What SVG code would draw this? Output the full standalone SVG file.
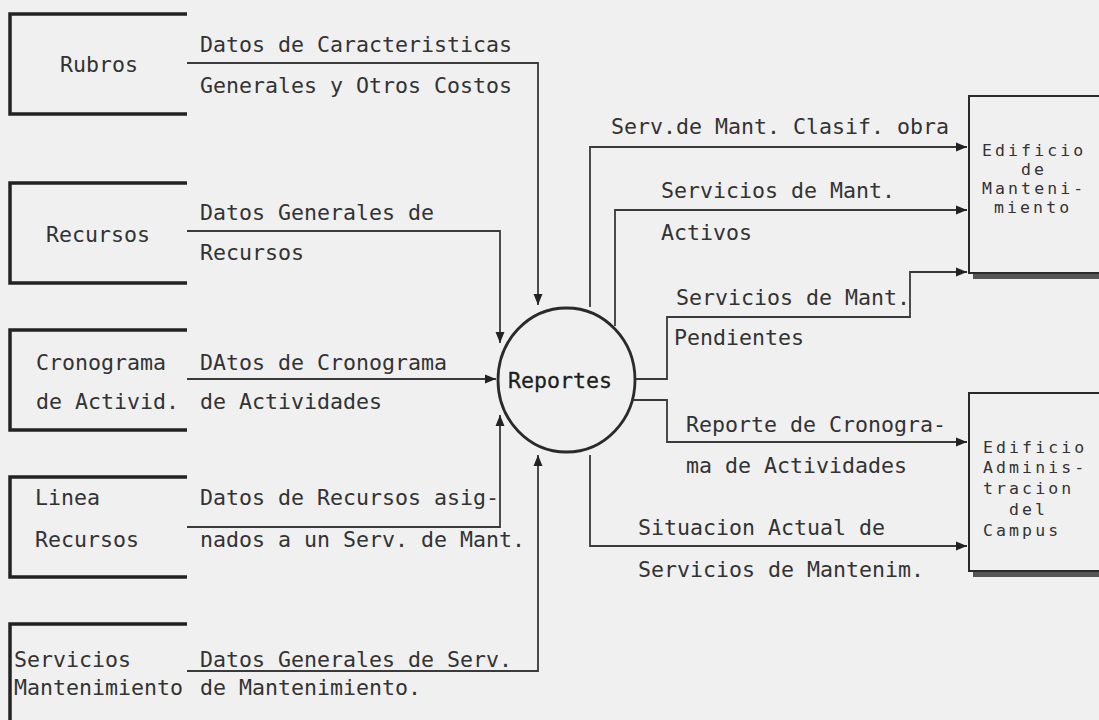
<svg xmlns="http://www.w3.org/2000/svg" width="1099" height="720" viewBox="0 0 1099 720">
<defs>
<style>
.t{font-family:"DejaVu Sans Mono","Liberation Mono",monospace;font-size:21.6px;fill:#333}
.s{font-family:"DejaVu Sans Mono","Liberation Mono",monospace;font-size:16.5px;letter-spacing:3.1px;fill:#333}
.b{fill:none;stroke:#222;stroke-width:3.5}
.c{fill:none;stroke:#3a3a3a;stroke-width:1.8}
.r{fill:none;stroke:#2a2a2a;stroke-width:2}
.sh{fill:#555}
</style>
<marker id="ah" markerUnits="userSpaceOnUse" markerWidth="12" markerHeight="10" refX="11" refY="5" orient="auto">
<path d="M0,0.5 L11,5 L0,9.5 z" fill="#222"/>
</marker>
</defs>
<rect width="1099" height="720" fill="#f0f0f0"/>

<g id="rubros">
<path class="b" d="M187,14 H10 V114 H187"/>
<text class="t" x="60" y="72">Rubros</text>
</g>
<g id="recursos">
<path class="b" d="M187,183 H10 V283 H187"/>
<text class="t" x="46" y="242">Recursos</text>
</g>
<g id="cronograma">
<path class="b" d="M187,330 H10 V430 H187"/>
<text class="t" x="36" y="370">Cronograma</text>
<text class="t" x="36" y="409">de Activid.</text>
</g>
<g id="linea">
<path class="b" d="M187,477 H10 V577 H187"/>
<text class="t" x="35" y="505">Linea</text>
<text class="t" x="35" y="547">Recursos</text>
</g>
<g id="servicios">
<path class="b" d="M187,624 H10 V722"/>
<text class="t" x="14" y="667">Servicios</text>
<text class="t" x="14" y="695">Mantenimiento</text>
</g>

<g id="reportes">
<ellipse cx="566.5" cy="380" rx="68.5" ry="72" fill="none" stroke="#2a2a2a" stroke-width="2.8"/>
<text class="t" x="508" y="388" style="fill:#1e1e1e;stroke:#1e1e1e;stroke-width:0.3">Reportes</text>
</g>

<g id="edificio-mant">
<path class="r" d="M1100,96 H969 V273 H1100"/>
<rect class="sh" x="973" y="274" width="127" height="5"/>
<text class="s" x="982" y="156">Edificio</text>
<text class="s" x="1021" y="175">de</text>
<text class="s" x="982" y="194">Manteni-</text>
<text class="s" x="994" y="213">miento</text>
</g>
<g id="edificio-admin">
<path class="r" d="M1100,393 H969 V571 H1100"/>
<rect class="sh" x="973" y="572" width="127" height="5"/>
<text class="s" x="983" y="453">Edificio</text>
<text class="s" x="983" y="473">Adminis-</text>
<text class="s" x="983" y="494">tracion</text>
<text class="s" x="1009" y="515">del</text>
<text class="s" x="983" y="536">Campus</text>
</g>

<g id="connectors">
<path class="c" d="M187,63 H538 V305" marker-end="url(#ah)"/>
<path class="c" d="M187,231 H500 V343" marker-end="url(#ah)"/>
<path class="c" d="M187,379 H496" marker-end="url(#ah)"/>
<path class="c" d="M187,527 H500 V415" marker-end="url(#ah)"/>
<path class="c" d="M187,671 H538 V455" marker-end="url(#ah)"/>
<path class="c" d="M590,307 V147 H967" marker-end="url(#ah)"/>
<path class="c" d="M615,326 V210 H967" marker-end="url(#ah)"/>
<path class="c" d="M636,379 H667 V317 H910 V272 H967" marker-end="url(#ah)"/>
<path class="c" d="M633,400 H667 V442 H967" marker-end="url(#ah)"/>
<path class="c" d="M590,455 V546 H967" marker-end="url(#ah)"/>
</g>

<g id="labels">
<text class="t" x="200" y="52">Datos de Caracteristicas</text>
<text class="t" x="200" y="93">Generales y Otros Costos</text>
<text class="t" x="200" y="220">Datos Generales de</text>
<text class="t" x="200" y="260">Recursos</text>
<text class="t" x="200" y="370">DAtos de Cronograma</text>
<text class="t" x="200" y="409">de Actividades</text>
<text class="t" x="200" y="505">Datos de Recursos asig-</text>
<text class="t" x="200" y="547">nados a un Serv. de Mant.</text>
<text class="t" x="200" y="667">Datos Generales de Serv.</text>
<text class="t" x="200" y="695">de Mantenimiento.</text>
<text class="t" x="611" y="134">Serv.de Mant. Clasif. obra</text>
<text class="t" x="661" y="198">Servicios de Mant.</text>
<text class="t" x="661" y="240">Activos</text>
<text class="t" x="676" y="305">Servicios de Mant.</text>
<text class="t" x="674" y="345">Pendientes</text>
<text class="t" x="686" y="432">Reporte de Cronogra-</text>
<text class="t" x="686" y="473">ma de Actividades</text>
<text class="t" x="638" y="535">Situacion Actual de</text>
<text class="t" x="638" y="577">Servicios de Mantenim.</text>
</g>
</svg>
